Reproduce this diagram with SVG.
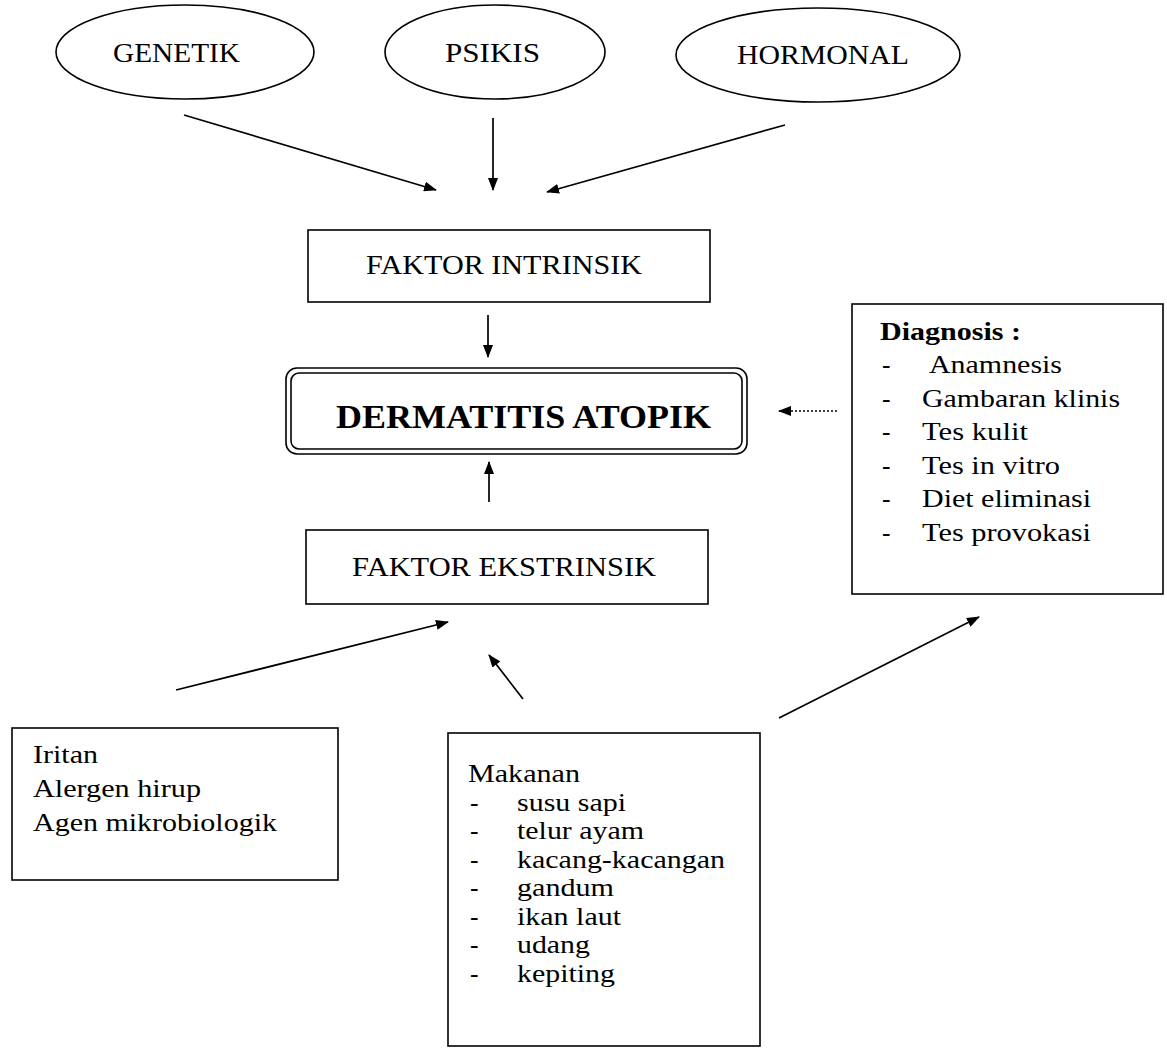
<svg xmlns="http://www.w3.org/2000/svg" width="1167" height="1059" viewBox="0 0 1167 1059">
<defs>
<style>
.t{font-family:"Liberation Serif","Times New Roman",serif;font-size:25.5px;fill:#000}
.u{font-size:28px}
.b{font-weight:bold}
.shape{fill:none;stroke:#000;stroke-width:1.6}
.ln{fill:none;stroke:#000;stroke-width:1.7}
</style>
<marker id="ah" markerWidth="13" markerHeight="10" refX="12" refY="5" orient="auto" markerUnits="userSpaceOnUse">
<path d="M0,0 L13,5 L0,10 Z" fill="#000"/>
</marker>
</defs>
<rect width="1167" height="1059" fill="#fff"/>
<g id="genetik"><ellipse class="shape" cx="185" cy="52" rx="129" ry="47"/><text class="t u" x="113" y="62" textLength="127" lengthAdjust="spacingAndGlyphs">GENETIK</text></g>
<g id="psikis"><ellipse class="shape" cx="495" cy="52" rx="110" ry="47"/><text class="t u" x="445" y="62" textLength="95" lengthAdjust="spacingAndGlyphs">PSIKIS</text></g>
<g id="hormonal"><ellipse class="shape" cx="818" cy="55" rx="142" ry="47"/><text class="t u" x="737" y="64" textLength="172" lengthAdjust="spacingAndGlyphs">HORMONAL</text></g>
<g id="intrinsik"><rect class="shape" x="308" y="230" width="402" height="72"/><text class="t u" x="366" y="274" textLength="276" lengthAdjust="spacingAndGlyphs">FAKTOR INTRINSIK</text></g>
<g id="dermatitis"><rect class="shape" x="286" y="368" width="461" height="86" rx="11"/><rect class="shape" x="291" y="373" width="451" height="76" rx="8"/><text class="t b" x="336" y="428" style="font-size:33px" textLength="375" lengthAdjust="spacingAndGlyphs">DERMATITIS ATOPIK</text></g>
<g id="ekstrinsik"><rect class="shape" x="306" y="530" width="402" height="74"/><text class="t u" x="352" y="576" textLength="304" lengthAdjust="spacingAndGlyphs">FAKTOR EKSTRINSIK</text></g>
<g id="diagnosis"><rect class="shape" x="852" y="304" width="311" height="290"/>
<text class="t b" x="880" y="340" textLength="141" lengthAdjust="spacingAndGlyphs">Diagnosis :</text>
<text class="t" x="882" y="373">-</text><text class="t" x="929" y="373" textLength="133" lengthAdjust="spacingAndGlyphs">Anamnesis</text>
<text class="t" x="882" y="407">-</text><text class="t" x="922" y="407" textLength="198" lengthAdjust="spacingAndGlyphs">Gambaran klinis</text>
<text class="t" x="882" y="440">-</text><text class="t" x="922" y="440" textLength="106" lengthAdjust="spacingAndGlyphs">Tes kulit</text>
<text class="t" x="882" y="474">-</text><text class="t" x="922" y="474" textLength="138" lengthAdjust="spacingAndGlyphs">Tes in vitro</text>
<text class="t" x="882" y="507">-</text><text class="t" x="922" y="507" textLength="169" lengthAdjust="spacingAndGlyphs">Diet eliminasi</text>
<text class="t" x="882" y="541">-</text><text class="t" x="922" y="541" textLength="169" lengthAdjust="spacingAndGlyphs">Tes provokasi</text>
</g>
<g id="iritan"><rect class="shape" x="12" y="728" width="326" height="152"/>
<text class="t" x="33" y="763" textLength="65" lengthAdjust="spacingAndGlyphs">Iritan</text>
<text class="t" x="33" y="797" textLength="168" lengthAdjust="spacingAndGlyphs">Alergen hirup</text>
<text class="t" x="33" y="831" textLength="244" lengthAdjust="spacingAndGlyphs">Agen mikrobiologik</text>
</g>
<g id="makanan"><rect class="shape" x="448" y="733" width="312" height="313"/>
<text class="t" x="468" y="782" textLength="112" lengthAdjust="spacingAndGlyphs">Makanan</text>
<text class="t" x="470" y="811">-</text><text class="t" x="517" y="811" textLength="109" lengthAdjust="spacingAndGlyphs">susu sapi</text>
<text class="t" x="470" y="839">-</text><text class="t" x="517" y="839" textLength="127" lengthAdjust="spacingAndGlyphs">telur ayam</text>
<text class="t" x="470" y="868">-</text><text class="t" x="517" y="868" textLength="208" lengthAdjust="spacingAndGlyphs">kacang-kacangan</text>
<text class="t" x="470" y="896">-</text><text class="t" x="517" y="896" textLength="97" lengthAdjust="spacingAndGlyphs">gandum</text>
<text class="t" x="470" y="925">-</text><text class="t" x="517" y="925" textLength="104" lengthAdjust="spacingAndGlyphs">ikan laut</text>
<text class="t" x="470" y="953">-</text><text class="t" x="517" y="953" textLength="73" lengthAdjust="spacingAndGlyphs">udang</text>
<text class="t" x="470" y="982">-</text><text class="t" x="517" y="982" textLength="98" lengthAdjust="spacingAndGlyphs">kepiting</text>
</g>
<g id="connectors">
<line class="ln" x1="184" y1="115" x2="436" y2="190" marker-end="url(#ah)"/>
<line class="ln" x1="493" y1="118" x2="493" y2="190" marker-end="url(#ah)"/>
<line class="ln" x1="785" y1="125" x2="547" y2="192" marker-end="url(#ah)"/>
<line class="ln" x1="488" y1="315" x2="488" y2="357" marker-end="url(#ah)"/>
<line class="ln" x1="837" y1="411" x2="779" y2="411" stroke-dasharray="2,2" marker-end="url(#ah)"/>
<line class="ln" x1="489" y1="502" x2="489" y2="462" marker-end="url(#ah)"/>
<line class="ln" x1="176" y1="690" x2="448" y2="622" marker-end="url(#ah)"/>
<line class="ln" x1="523" y1="699" x2="489" y2="655" marker-end="url(#ah)"/>
<line class="ln" x1="779" y1="718" x2="979" y2="617" marker-end="url(#ah)"/>
</g>
</svg>
